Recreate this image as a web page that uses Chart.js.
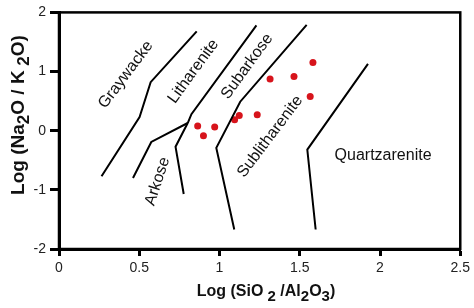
<!DOCTYPE html>
<html>
<head>
<meta charset="utf-8">
<script src="https://cdn.jsdelivr.net/npm/chart.js@4.4.0/dist/chart.umd.min.js"></script>
<style>
  html, body { margin: 0; padding: 0; background: #fff; }
</style>
</head>
<body>
<canvas id="chart" width="474" height="308"></canvas>
<script>
// tick values
const xTicks = [0, 0.5, 1, 1.5, 2, 2.5];
const yTicks = [-2, -1, 0, 1, 2];

// field boundaries as [log(SiO2/Al2O3), log(Na2O/K2O)]
const graywackeLine = [[0.265, -0.77], [0.502, 0.23], [0.571, 0.82], [0.858, 1.68]];
const litharLine = [[1.23, 1.78], [0.825, 0.28], [0.802, 0.13]];
const arkoseLeft = [[0.802, 0.13], [0.575, -0.19], [0.461, -0.80]];
const arkoseRight = [[0.802, 0.13], [0.726, -0.27], [0.777, -1.07]];
const subarkoseLine = [[1.543, 1.79], [1.129, 0.49], [0.98, -0.29], [1.092, -1.67]];
const quartzLine = [[1.925, 1.13], [1.547, -0.32], [1.599, -1.67]];

// samples
const sampleX = [0.864, 0.900, 0.970, 1.094, 1.123, 1.235, 1.315, 1.464, 1.582, 1.565];
const sampleY = [0.080, -0.087, 0.064, 0.187, 0.259, 0.271, 0.874, 0.917, 1.151, 0.577];

// field names and where they sit
const fieldNames = ['Graywacke', 'Litharenite', 'Subarkose', 'Sublitharenite', 'Arkose', 'Quartzarenite'];
const fieldX = [0.416, 0.837, 1.172, 1.315, 0.614, 2.019];
const fieldY = [0.946, 1.004, 1.088, -0.100, -0.857, -0.427];
const fieldAngle = [-53, -54, -54, -53, -72, 0];

const toPts = arr => arr.map(p => ({ x: p[0], y: p[1] }));

function boundary(arr) {
  return {
    data: toPts(arr),
    showLine: true,
    borderColor: '#000',
    borderWidth: 2,
    pointRadius: 0,
    fill: false
  };
}

// draw text with lowered subscripts, centred on x
function richText(ctx, parts, x, y, size, subSize, drop) {
  const big = 'bold ' + size + 'px "Liberation Sans", Arial';
  const small = 'bold ' + subSize + 'px "Liberation Sans", Arial';
  let total = 0;
  parts.forEach(p => {
    ctx.font = p[1] ? small : big;
    total += ctx.measureText(p[0]).width;
  });
  let cx = x - total / 2;
  parts.forEach(p => {
    ctx.font = p[1] ? small : big;
    ctx.fillText(p[0], cx, p[1] ? y + drop : y);
    cx += ctx.measureText(p[0]).width;
  });
}

const extras = {
  id: 'extras',
  afterDatasetsDraw(chart) {
    const ctx = chart.ctx;
    const xs = chart.scales.x, ys = chart.scales.y;
    ctx.save();
    ctx.fillStyle = '#111';
    ctx.font = '16px "Liberation Sans", Arial';
    ctx.textAlign = 'center';
    ctx.textBaseline = 'middle';
    fieldNames.forEach((name, i) => {
      ctx.save();
      ctx.translate(xs.getPixelForValue(fieldX[i]), ys.getPixelForValue(fieldY[i]));
      ctx.rotate(fieldAngle[i] * Math.PI / 180);
      ctx.fillText(name, 0, 0);
      ctx.restore();
    });
    ctx.restore();
  },
  afterDraw(chart) {
    const ctx = chart.ctx;
    const a = chart.chartArea;
    ctx.save();
    ctx.strokeStyle = '#000';
    ctx.lineWidth = 2.5;
    ctx.strokeRect(a.left, a.top, a.right - a.left, a.bottom - a.top);

    ctx.fillStyle = '#111';
    ctx.textAlign = 'left';
    ctx.textBaseline = 'alphabetic';
    richText(ctx, [['Log (SiO', 0], [' 2', 1], [' /Al', 0], ['2', 1], ['O', 0], ['3', 1], [')', 0]], 266, 296, 16, 15, 5);

    ctx.translate(24, 115);
    ctx.rotate(-Math.PI / 2);
    richText(ctx, [['Log (Na', 0], ['2', 1], ['O / K', 0], [' 2', 1], ['O)', 0]], 0, 0, 19, 17, 5);
    ctx.restore();
  }
};

new Chart(document.getElementById('chart'), {
  type: 'scatter',
  data: {
    datasets: [
      boundary(graywackeLine),
      boundary(litharLine),
      boundary(arkoseLeft),
      boundary(arkoseRight),
      boundary(subarkoseLine),
      boundary(quartzLine),
      {
        data: sampleX.map((x, i) => ({ x: x, y: sampleY[i] })),
        pointRadius: 3.5,
        pointBackgroundColor: '#d7141c',
        pointBorderColor: '#d7141c',
        pointBorderWidth: 0,
        showLine: false
      }
    ]
  },
  options: {
    responsive: false,
    animation: false,
    layout: { padding: { left: 0, top: 11, right: 12, bottom: 0 } },
    plugins: { legend: { display: false }, tooltip: { enabled: false } },
    scales: {
      x: {
        type: 'linear',
        min: 0,
        max: 2.5,
        afterFit: s => { s.height = 59; },
        afterBuildTicks: s => { s.ticks = xTicks.map(v => ({ value: v })); },
        border: { display: true, color: '#000', width: 3 },
        grid: { drawOnChartArea: false, drawTicks: true, tickLength: 7, tickWidth: 3, tickColor: '#000' },
        ticks: {
          padding: 4,
          color: '#222',
          font: { family: '"Liberation Sans", Arial', size: 14 },
          maxRotation: 0,
          callback: v => String(v)
        }
      },
      y: {
        type: 'linear',
        min: -2,
        max: 2,
        afterFit: s => { s.width = 59; },
        afterBuildTicks: s => { s.ticks = yTicks.map(v => ({ value: v })); },
        border: { display: true, color: '#000', width: 3 },
        grid: { drawOnChartArea: false, drawTicks: true, tickLength: 9, tickWidth: 3, tickColor: '#000' },
        ticks: {
          padding: 4,
          color: '#222',
          font: { family: '"Liberation Sans", Arial', size: 14 },
          callback: v => String(v)
        }
      }
    }
  },
  plugins: [extras]
});
</script>
</body>
</html>
